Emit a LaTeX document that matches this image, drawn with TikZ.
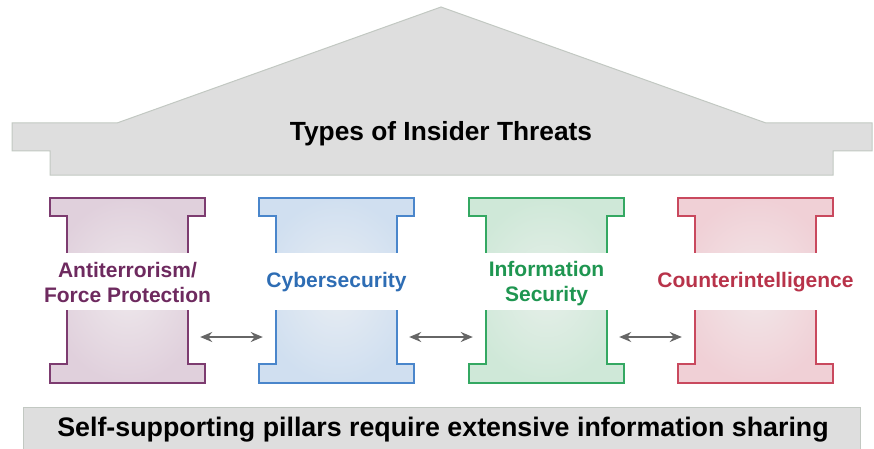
\documentclass[tikz,border=0pt]{standalone}
\usepackage{fontspec}
\setmainfont{Liberation Sans}
\usetikzlibrary{arrows.meta}
\definecolor{roofgray}{HTML}{DEDEDE}
\definecolor{roofline}{HTML}{C2C8C2}
\definecolor{arrowgray}{HTML}{666666}
\definecolor{purpline}{HTML}{7D3C70}
\definecolor{purpfill}{HTML}{E0D0DC}
\definecolor{purpin}{HTML}{EEE8EC}
\definecolor{purptext}{HTML}{6E2A5F}
\definecolor{bluline}{HTML}{4A86CB}
\definecolor{blufill}{HTML}{D0DFF0}
\definecolor{bluin}{HTML}{E8EDF3}
\definecolor{blutext}{HTML}{2E6DB4}
\definecolor{grnline}{HTML}{34A862}
\definecolor{grnfill}{HTML}{CFE8D8}
\definecolor{grnin}{HTML}{E6EFE9}
\definecolor{grntext}{HTML}{1F9651}
\definecolor{rdline}{HTML}{C9495E}
\definecolor{rdfill}{HTML}{F0D0D6}
\definecolor{rdin}{HTML}{F2E7E9}
\definecolor{rdtext}{HTML}{B8334A}

\begin{document}
\begin{tikzpicture}[x=1pt, y=-1pt,
  roof/.style={fill=roofgray, draw=roofline, line width=1pt},
  link/.style={{Stealth[length=12pt,width=10pt]}-{Stealth[length=12pt,width=10pt]}, line width=1.8pt, draw=arrowgray},
  pillarlabel/.style={font=\fontsize{21}{25}\selectfont\bfseries, align=center, inner sep=0pt}]
\useasboundingbox (0,0) rectangle (874,449);

% Roof
\path[roof] (12,123) -- (117,123) -- (441,7) -- (766,123) -- (872,123) -- (872,151) -- (833,151) -- (833,175) -- (50,175) -- (50,151) -- (12,151) -- cycle;
\node[anchor=base, font=\fontsize{26.3}{30}\selectfont\bfseries] (title) at (441,141) {Types of Insider Threats};

% Pillars (shaft nodes s1..s4 for the arrows)
\foreach \x/\c [count=\i] in {50/purp, 259/blu, 469/grn, 678/rd} {
  \path[draw=\c line, line width=1.2pt, inner color=\c in, outer color=\c fill] (\x,198) -- ++(155,0) -- ++(0,18) -- ++(-17,0) -- ++(0,148) -- ++(17,0) -- ++(0,19) -- ++(-155,0) -- ++(0,-19) -- ++(17,0) -- ++(0,-148) -- ++(-17,0) -- cycle;
  \fill[white] (\x+10,253) rectangle (\x+145,310);
  \node[inner sep=0pt, minimum width=121pt, minimum height=54pt] (s\i) at (\x+77.5,337) {};
}

% Pillar labels
\node[pillarlabel, text=purptext] (lab1) at (127.5,282) {Antiterrorism/\\Force Protection};
\node[pillarlabel, text=blutext, anchor=base] (lab2) at (336.5,287) {Cybersecurity};
\node[pillarlabel, text=grntext] (lab3) at (546.5,284) {Information\\Security};
\node[pillarlabel, text=rdtext, anchor=base] (lab4) at (755.5,287) {Counterintelligence};

% Information sharing between pillars
\draw[link] ([xshift=12pt]s1.east) -- ([xshift=-13pt]s2.west);
\draw[link] ([xshift=12pt]s2.east) -- ([xshift=-13pt]s3.west);
\draw[link] ([xshift=12pt]s3.east) -- ([xshift=-13pt]s4.west);

% Foundation
\path[roof] (23,407) rectangle (860,455);
\node[anchor=base, font=\fontsize{26.8}{30}\selectfont\bfseries] (motto) at (443,436) {Self-supporting pillars require extensive information sharing};
\end{tikzpicture}
\end{document}
